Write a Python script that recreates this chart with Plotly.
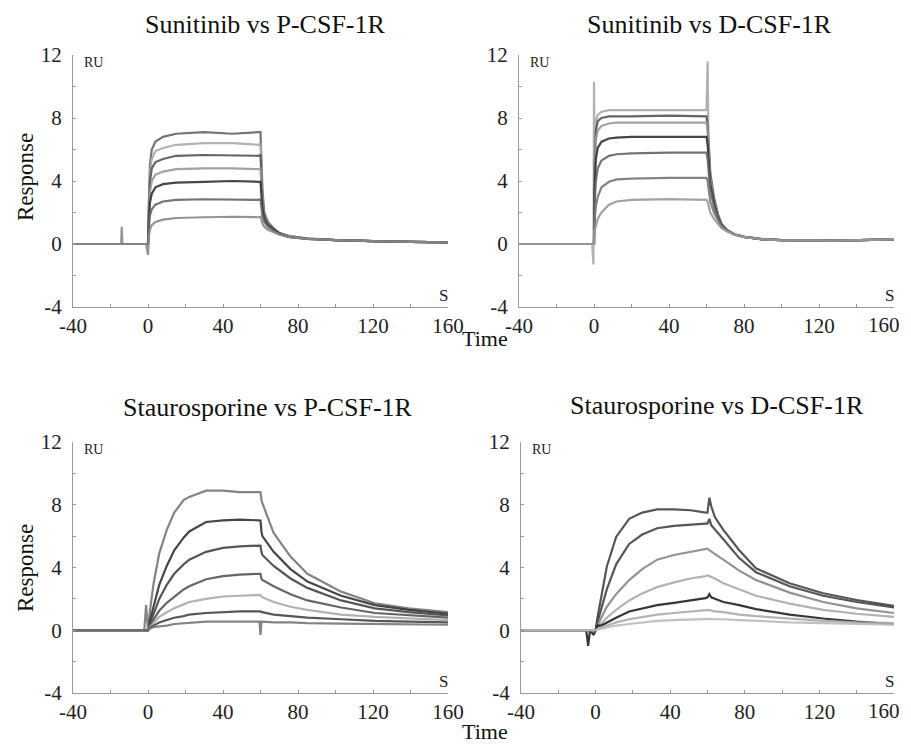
import plotly.graph_objects as go

# ---------------- data ----------------
# Panel 1: Sunitinib vs P-CSF-1R
t_p1 = [-40, -14.3, -14, -13.7, -1, 0, 0.5, 1, 2, 4, 8, 15, 30, 45, 59, 60,
        61, 62, 64, 67, 70, 75, 85, 100, 130, 160]
p1_curves = [
    [0, 0, 0, 0, 0, 0, 2.8, 5.0, 6.0, 6.5, 6.8, 7.0, 7.1, 7.0, 7.1, 7.1, 3.5, 2.0, 1.4, 1.0, 0.7, 0.5, 0.35, 0.25, 0.15, 0.1],
    [0, 0, 0, 0, 0, 0, 2.5, 4.5, 5.4, 5.9, 6.1, 6.3, 6.4, 6.4, 6.3, 6.4, 3.2, 1.9, 1.35, 0.95, 0.7, 0.5, 0.35, 0.25, 0.15, 0.1],
    [0, 0, 0, 0, 0, 0, 2.2, 3.9, 4.8, 5.2, 5.4, 5.6, 5.65, 5.6, 5.6, 5.65, 2.9, 1.8, 1.3, 0.95, 0.7, 0.5, 0.35, 0.25, 0.15, 0.1],
    [0, 0, 0, 0, 0, 0, 1.9, 3.3, 4.0, 4.4, 4.6, 4.75, 4.8, 4.8, 4.75, 4.8, 2.6, 1.7, 1.25, 0.9, 0.65, 0.5, 0.35, 0.25, 0.15, 0.1],
    [0, 0, 0, 0, 0, 0, 1.5, 2.6, 3.2, 3.6, 3.8, 3.9, 3.95, 4.0, 3.95, 3.96, 2.3, 1.6, 1.2, 0.9, 0.65, 0.45, 0.33, 0.25, 0.15, 0.1],
    [0, 0, 0, 0, 0, 0, 1.0, 1.8, 2.2, 2.5, 2.7, 2.8, 2.84, 2.8, 2.8, 2.84, 1.8, 1.4, 1.1, 0.85, 0.62, 0.45, 0.33, 0.25, 0.15, 0.1],
    [0, 0, 1.1, 0, 0, -0.7, 0.5, 0.9, 1.2, 1.4, 1.55, 1.65, 1.7, 1.73, 1.7, 1.73, 1.3, 1.1, 0.9, 0.75, 0.6, 0.45, 0.33, 0.25, 0.15, 0.1],
]
p1_colors = ["#666666", "#aaaaaa", "#555555", "#999999", "#333333", "#666666", "#888888"]

# Panel 2: Sunitinib vs D-CSF-1R
t_p2 = [-40, -1, -0.3, 0, 0.3, 1, 2, 4, 8, 12, 20, 40, 59, 60, 60.6,
        61, 62, 64, 66, 68, 71, 75, 80, 90, 100, 130, 160]
p2_curves = [
    [0, 0, -1.3, 10.3, 6.0, 7.8, 8.2, 8.4, 8.5, 8.5, 8.5, 8.5, 8.5, 8.5, 11.6, 7.0, 4.6, 3.0, 1.95, 1.3, 0.9, 0.62, 0.47, 0.32, 0.25, 0.22, 0.3],
    [0, 0, 0, 0, 5.0, 7.2, 7.8, 8.0, 8.1, 8.1, 8.1, 8.15, 8.1, 8.1, 7.5, 6.6, 4.4, 2.9, 1.9, 1.25, 0.88, 0.6, 0.45, 0.3, 0.25, 0.22, 0.3],
    [0, 0, 0, 0, 4.5, 6.6, 7.2, 7.5, 7.65, 7.7, 7.7, 7.7, 7.7, 7.7, 7.1, 6.3, 4.2, 2.8, 1.85, 1.25, 0.88, 0.6, 0.45, 0.3, 0.25, 0.22, 0.3],
    [0, 0, 0, 0, 3.5, 5.4, 6.1, 6.5, 6.7, 6.75, 6.8, 6.8, 6.8, 6.8, 6.3, 5.6, 3.8, 2.6, 1.75, 1.2, 0.85, 0.6, 0.45, 0.3, 0.25, 0.22, 0.3],
    [0, 0, 0, 0, 2.5, 4.0, 4.8, 5.3, 5.6, 5.7, 5.75, 5.8, 5.8, 5.8, 5.4, 4.8, 3.4, 2.4, 1.65, 1.15, 0.85, 0.6, 0.45, 0.3, 0.25, 0.22, 0.3],
    [0, 0, 0, 0, 1.5, 2.4, 3.0, 3.6, 3.95, 4.1, 4.15, 4.2, 4.2, 4.2, 4.0, 3.6, 2.7, 2.0, 1.5, 1.1, 0.82, 0.6, 0.45, 0.3, 0.25, 0.22, 0.3],
    [0, 0, 0, 0, 0.8, 1.2, 1.6, 2.0, 2.5, 2.7, 2.8, 2.85, 2.8, 2.8, 2.7, 2.5, 2.0, 1.6, 1.3, 1.0, 0.8, 0.6, 0.45, 0.3, 0.25, 0.22, 0.3],
]
p2_colors = ["#aaaaaa", "#555555", "#999999", "#333333", "#666666", "#777777", "#999999"]

# Panel 3: Staurosporine vs P-CSF-1R
t_p3 = [-40, -20, -2, -1, 0, 1, 3, 6, 10, 14, 19, 22, 31, 40, 49, 59.5, 60, 60.5,
        61, 67, 76, 85, 103, 121, 139, 160]
p3_curves = [
    [0, 0, 0, 0, 0, 1.2, 3.0, 4.9, 6.4, 7.5, 8.3, 8.5, 8.9, 8.9, 8.8, 8.8, 8.8, 8.3, 8.1, 6.2, 4.7, 3.6, 2.46, 1.72, 1.4, 1.15],
    [0, 0, 0, 0, 0, 0.6, 1.6, 2.9, 4.1, 5.1, 5.9, 6.3, 6.9, 7.0, 7.05, 7.0, 7.0, 6.3, 6.0, 5.0, 3.9, 3.1, 2.2, 1.6, 1.3, 1.05],
    [0, 0, 0, 0, 0, 0.4, 1.0, 2.0, 2.9, 3.6, 4.2, 4.5, 5.0, 5.25, 5.35, 5.4, 5.4, 5.0, 4.8, 4.1, 3.3, 2.7, 1.9, 1.4, 1.15, 0.95],
    [0, 0, 0, 0, 0, 0.3, 0.7, 1.25, 1.75, 2.15, 2.6, 2.8, 3.25, 3.45, 3.55, 3.6, 3.6, 3.3, 3.2, 2.8, 2.3, 1.9, 1.45, 1.1, 0.95, 0.8],
    [0, 0, 0, 0, 0, 0.2, 0.45, 0.85, 1.15, 1.4, 1.65, 1.8, 2.0, 2.15, 2.2, 2.25, 2.25, 2.15, 2.1, 1.8, 1.5, 1.3, 1.0, 0.85, 0.75, 0.65],
    [0, 0, 0, 0, 0, 0.15, 0.3, 0.5, 0.65, 0.8, 0.9, 1.0, 1.1, 1.15, 1.2, 1.2, 1.2, 1.15, 1.15, 1.0, 0.9, 0.8, 0.7, 0.6, 0.55, 0.5],
    [0, 0, 0, 1.6, 0, 0.1, 0.2, 0.25, 0.3, 0.4, 0.45, 0.5, 0.55, 0.55, 0.55, 0.55, -0.3, 0.55, 0.55, 0.5, 0.5, 0.45, 0.42, 0.4, 0.38, 0.35],
]
p3_colors = ["#777777", "#333333", "#444444", "#555555", "#aaaaaa", "#444444", "#777777"]

# Panel 4: Staurosporine vs D-CSF-1R
t_p4 = [-40, -20, -5, -4, -3, -1, 0, 1, 3, 6, 11, 18, 25, 33, 42, 51, 59, 60,
        61, 62, 64, 68.5, 77, 86, 104, 122, 140, 160]
p4_curves = [
    [0, 0, 0, 0, 0, 0, 0, 0.8, 2.2, 4.05, 5.95, 7.1, 7.5, 7.7, 7.7, 7.65, 7.5, 7.5, 8.45, 7.9, 7.2, 6.4, 5.1, 3.95, 3.0, 2.36, 1.93, 1.55],
    [0, 0, 0, 0, 0, 0, 0, 0.5, 1.3, 2.6, 4.2, 5.5, 6.1, 6.5, 6.65, 6.75, 6.8, 6.8, 7.1, 6.7, 6.4, 5.8, 4.6, 3.7, 2.8, 2.2, 1.8, 1.45],
    [0, 0, 0, 0, 0, 0, 0, 0.3, 0.8, 1.5, 2.3, 3.2, 3.9, 4.5, 4.8, 5.0, 5.15, 5.2, 5.1, 5.0, 4.85, 4.5, 3.8, 3.2, 2.4, 1.8, 1.4, 1.1],
    [0, 0, 0, 0, 0, 0, 0, 0.2, 0.45, 0.8, 1.3, 1.9, 2.35, 2.75, 3.05, 3.3, 3.45, 3.5, 3.45, 3.4, 3.3, 3.0, 2.6, 2.2, 1.7, 1.3, 1.05, 0.85],
    [0, 0, 0, -1.0, 0, -0.3, 0, 0.3, 0.3, 0.5, 0.8, 1.2, 1.4, 1.6, 1.75, 1.9, 2.05, 2.1, 2.3, 2.1, 2.0, 1.8, 1.6, 1.35, 1.0, 0.75, 0.55, 0.4],
    [0, 0, 0, 0, 0, 0, 0, 0.1, 0.15, 0.3, 0.5, 0.7, 0.85, 1.0, 1.1, 1.2, 1.3, 1.3, 1.3, 1.25, 1.2, 1.15, 1.0, 0.9, 0.75, 0.6, 0.5, 0.45],
    [0, 0, 0, 0, 0, 0, 0, 0.05, 0.1, 0.15, 0.3, 0.4, 0.5, 0.6, 0.65, 0.7, 0.75, 0.75, 0.75, 0.72, 0.7, 0.7, 0.65, 0.6, 0.5, 0.45, 0.4, 0.35],
]
p4_colors = ["#444444", "#444444", "#888888", "#aaaaaa", "#222222", "#aaaaaa", "#bbbbbb"]

titles = ["Sunitinib vs P-CSF-1R", "Sunitinib vs D-CSF-1R",
          "Staurosporine vs P-CSF-1R", "Staurosporine vs D-CSF-1R"]
x_ticks = [-40, -20, 0, 20, 40, 60, 80, 100, 120, 140, 160]
x_ticktext = ["-40", "", "0", "", "40", "", "80", "", "120", "", "160"]
y_ticks = [-4, -2, 0, 2, 4, 6, 8, 10, 12]
y_ticktext = ["-4", "", "0", "", "4", "", "8", "", "12"]

# ---------------- layout geometry ----------------
# the page body has an 8px margin on every side; keep the figure inside it
OFF = 8
W, H = 911 - 2 * OFF, 755 - 2 * OFF
FONT = "Liberation Serif"
panels = [
    dict(t=t_p1, curves=p1_curves, colors=p1_colors, xd=(73, 448), yd=(55, 307), title_xy=(265, 25), right=False),
    dict(t=t_p2, curves=p2_curves, colors=p2_colors, xd=(519, 894), yd=(55, 307), title_xy=(709, 25), right=True),
    dict(t=t_p3, curves=p3_curves, colors=p3_colors, xd=(73, 448), yd=(442, 693), title_xy=(268, 407), right=False),
    dict(t=t_p4, curves=p4_curves, colors=p4_colors, xd=(521, 894), yd=(442, 693), title_xy=(717, 405), right=True),
]


def px(xpix):
    return (xpix - OFF) / W


def py(ypix):
    return 1 - (ypix - OFF) / H


fig = go.Figure()
layout = dict(width=W, height=H, margin=dict(l=0, r=0, t=0, b=0, autoexpand=False),
              paper_bgcolor="white", plot_bgcolor="white", showlegend=False,
              font=dict(family=FONT, color="#222222"))
annotations = []

for i, p in enumerate(panels):
    n = "" if i == 0 else str(i + 1)
    xa, ya = "x" + n, "y" + n
    for vals, col in zip(p["curves"], p["colors"]):
        fig.add_trace(go.Scatter(x=p["t"], y=vals, mode="lines", xaxis=xa, yaxis=ya,
                                 line=dict(color=col, width=2.2), opacity=0.9,
                                 hoverinfo="skip"))
    axis_common = dict(showgrid=False, zeroline=False, showline=True, linecolor="#9a9a9a",
                       linewidth=1, ticks="inside", ticklen=3, tickcolor="#9a9a9a",
                       automargin=False,
                       tickfont=dict(family=FONT, size=21, color="#222222"))
    ttext = x_ticktext[:-1] + [""] if p["right"] else x_ticktext
    layout["xaxis" + n] = dict(axis_common, domain=[px(p["xd"][0]), px(p["xd"][1])],
                               range=[-40, 160], tickvals=x_ticks, ticktext=ttext,
                               anchor=ya, fixedrange=True, ticklabelstandoff=0)
    layout["yaxis" + n] = dict(axis_common, domain=[py(p["yd"][1]), py(p["yd"][0])],
                               range=[-4, 12], tickvals=y_ticks, ticktext=y_ticktext,
                               anchor=xa, fixedrange=True, ticklabelstandoff=6)
    if p["right"]:
        # last tick label drawn as text so it stays inside the visible page
        annotations.append(dict(text=x_ticktext[-1], x=px(OFF + W - 1), y=py(p["yd"][1] + 18),
                                xref="paper", yref="paper", showarrow=False, xanchor="right",
                                yanchor="middle", font=dict(family=FONT, size=21, color="#222222")))
    tx, ty = p["title_xy"]
    annotations.append(dict(text=titles[i], x=px(tx), y=py(ty), xref="paper", yref="paper",
                            showarrow=False, xanchor="center", yanchor="middle",
                            font=dict(family=FONT, size=26, color="#111111")))
    annotations.append(dict(text="RU", x=px(p["xd"][0] + 9), y=py(p["yd"][0] + 7),
                            xref="paper", yref="paper", showarrow=False, xanchor="left",
                            yanchor="middle", font=dict(family=FONT, size=14, color="#222222")))
    annotations.append(dict(text="S", x=px(p["xd"][1] + 2), y=py(p["yd"][1] - 12),
                            xref="paper", yref="paper", showarrow=False, xanchor="right",
                            yanchor="middle", font=dict(family=FONT, size=17, color="#222222")))

for yc in (177, 568):
    annotations.append(dict(text="Response", x=px(25), y=py(yc), xref="paper", yref="paper",
                            showarrow=False, textangle=-90, xanchor="center", yanchor="middle",
                            font=dict(family=FONT, size=23, color="#111111")))
for yc, ya_ in ((338, "middle"), (H + OFF - 1, "bottom")):
    annotations.append(dict(text="Time", x=px(485), y=py(yc), xref="paper", yref="paper",
                            showarrow=False, xanchor="center", yanchor=ya_,
                            font=dict(family=FONT, size=22, color="#111111")))

layout["annotations"] = annotations
fig.update_layout(**layout)
fig.write_html("out.html")
